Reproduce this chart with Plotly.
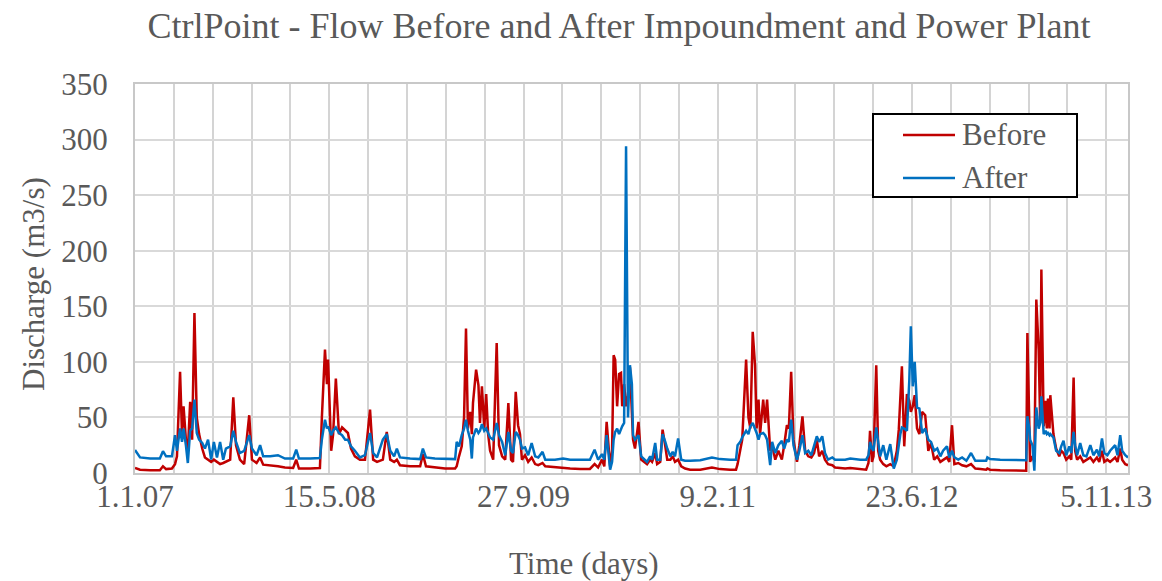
import pandas as pd
import plotly.graph_objects as go

title_text = "CtrlPoint - Flow Before and After Impoundment and Power Plant"
start_date = "2007-01-01"
end_date = "2013-12-31"
series_names = ["Before", "After"]
series_colors = ["#C00000", "#0070C0"]

days = [0, 13, 39, 64, 72, 80, 95, 103, 108, 116, 121, 125, 131, 136, 142, 147, 153, 159, 165, 173,
        180, 188, 196, 203, 211, 219, 227, 234, 245, 253, 260, 270, 281, 294, 301, 313, 322, 330, 348, 368,
        386, 407, 415, 422, 451, 476, 481, 487, 489, 494, 497, 505, 510, 517, 525, 533, 541, 548, 556, 566,
        579, 592, 605, 613, 623, 638, 648, 657, 667, 674, 682, 708, 734, 741, 749, 772, 798, 824, 828, 834,
        841, 847, 852, 857, 863, 867, 870, 878, 884, 888, 893, 899, 904, 909, 914, 922, 931, 937, 945, 953,
        961, 968, 973, 980, 986, 991, 996, 1004, 1012, 1021, 1030, 1038, 1049, 1056, 1081, 1102, 1120, 1146, 1171, 1183,
        1192, 1202, 1208, 1214, 1223, 1228, 1232, 1236, 1241, 1246, 1251, 1254, 1259, 1264, 1269, 1274, 1279, 1282, 1287, 1296,
        1303, 1311, 1318, 1326, 1331, 1339, 1344, 1352, 1358, 1365, 1370, 1378, 1384, 1390, 1398, 1406, 1416, 1429, 1455, 1485,
        1506, 1532, 1547, 1551, 1558, 1563, 1573, 1579, 1584, 1590, 1596, 1600, 1605, 1609, 1617, 1622, 1627, 1630, 1635, 1640,
        1648, 1656, 1665, 1671, 1678, 1683, 1689, 1695, 1704, 1710, 1718, 1725, 1733, 1741, 1748, 1755, 1761, 1769, 1776, 1784,
        1795, 1802, 1828, 1841, 1867, 1882, 1888, 1892, 1897, 1901, 1908, 1913, 1918, 1926, 1934, 1944, 1953, 1961, 1966, 1970,
        1974, 1980, 1987, 1993, 1997, 2002, 2007, 2013, 2019, 2026, 2034, 2042, 2049, 2057, 2065, 2073, 2080, 2090, 2096, 2103,
        2109, 2119, 2129, 2140, 2152, 2163, 2176, 2191, 2194, 2201, 2227, 2266, 2294, 2297, 2302, 2304, 2310, 2315, 2320, 2326,
        2330, 2333, 2339, 2344, 2347, 2350, 2354, 2356, 2364, 2371, 2379, 2384, 2390, 2397, 2405, 2410, 2416, 2420, 2425, 2433,
        2441, 2449, 2459, 2467, 2476, 2482, 2489, 2495, 2503, 2510, 2523, 2529, 2536, 2541, 2549, 2556]

before = [4.5, 3, 2.5, 2.5, 6, 3.5, 4, 8, 15, 91, 35, 60, 30, 20, 64, 30, 144, 50, 35, 22,
          14, 12, 10, 12, 10, 8, 9, 10, 12, 68, 25, 12, 8, 52, 12, 9, 14, 7.5, 7, 6,
          5, 4.5, 12, 4, 4, 4.5, 50, 87, 111, 80, 102, 20, 35, 85, 35, 41, 38, 36, 22, 15,
          12, 12, 57, 12, 10, 12, 37, 12, 10, 12, 7, 6, 6, 17, 6, 5, 4, 4, 6, 15,
          24, 50, 130, 40, 55, 35, 63, 93, 79, 45, 78, 40, 71, 35, 20, 12, 117, 25, 15, 12,
          63, 12, 10, 73, 43, 35, 12, 16, 10, 14, 8, 7, 9, 6, 5, 4.5, 4, 3.7, 3.7, 8,
          5, 12, 6, 46, 6, 20, 106, 102, 60, 89, 90, 60, 80, 60, 70, 95, 57, 30, 22, 46,
          12, 10, 8, 12, 10, 18, 8, 10, 39, 24, 12, 12, 15, 10, 12, 6, 4, 3, 3, 5,
          3.5, 3, 3, 8, 20, 30, 102, 50, 40, 127, 97, 40, 66, 35, 66, 45, 66, 52, 20, 25,
          12, 20, 12, 25, 43, 40, 91, 30, 10, 25, 51, 20, 15, 14, 18, 30, 15, 20, 12, 8,
          7, 5, 4, 4.5, 3.5, 3, 9, 38, 10, 15, 97, 20, 12, 8, 6, 8, 6, 20, 39, 75,
          96, 24, 71, 65, 55, 60, 70, 40, 35, 55, 52, 20, 27, 12, 15, 10, 12, 14, 10, 43,
          8, 9, 7, 6, 8, 4, 3.5, 3, 4, 3, 2.5, 2, 2, 126, 20, 10, 15, 10, 156, 111,
          45, 183, 42, 65, 40, 67, 40, 70, 35, 22, 15, 20, 18, 12, 15, 12, 86, 20, 12, 15,
          10, 12, 14, 10, 14, 10, 20, 10, 12, 10, 14, 10, 22, 12, 8, 7]

after = [20.7, 14, 13, 13, 19.6, 15, 15, 34, 20, 40, 28, 40, 25, 9, 38, 40, 66, 36, 30, 27,
         22, 30, 12, 28, 14, 28, 12, 22, 24, 38, 28, 18, 20, 34, 22, 16, 25, 15, 15, 16,
         13, 13, 21, 13, 13, 13.5, 30, 45, 48, 40, 42, 34, 38, 41, 36, 34, 30, 30, 24, 20,
         14, 16, 36, 18, 14, 30, 35, 20, 15, 22, 14, 13, 12.5, 22, 14, 13, 12.5, 12.5, 28, 24,
         34, 40, 48, 38, 30, 13, 32, 40, 36, 38, 44, 38, 40, 36, 32, 30, 45, 34, 28, 16,
         37, 20, 18, 37, 34, 30, 22, 23, 16, 27, 15, 14, 19, 12, 12, 13, 12, 12, 12, 21,
         12, 17, 12, 34, 3, 10, 30, 37, 40, 35, 40, 42, 45, 294, 50, 97, 80, 34, 30, 34,
         15, 12, 10, 15, 12, 27, 12, 12, 35, 28, 22, 15, 19, 15, 31, 12, 11, 11, 11.5, 14,
         12.5, 12, 12, 25, 28, 32, 38, 35, 42, 45, 40, 36, 30, 35, 36, 34, 30, 22, 7, 28,
         18, 25, 29, 22, 30, 28, 48, 25, 12, 20, 34, 18, 20, 16, 25, 33, 28, 33, 18, 12,
         14, 12, 12, 13, 12, 12, 16, 28, 22, 20, 41, 30, 15, 25, 12, 26, 4, 12, 28, 35,
         41, 40, 38, 83, 132, 78, 100, 59, 58, 36, 40, 30, 28, 20, 22, 15, 20, 24, 14, 20,
         14, 12, 14, 11, 18, 11, 11, 11, 14, 12.5, 12, 12, 11.5, 51, 40, 30, 25, 2, 59, 40,
         45, 69, 35, 38, 35, 36, 34, 35, 32, 20, 18, 24, 29, 16, 24, 18, 37, 25, 16, 27,
         16, 15, 25, 16, 21, 15, 31, 18, 16, 20, 25, 16, 34, 20, 16, 14]

tick_days = [0, 500, 1000, 1500, 2000, 2500]
tick_labels = ["1.1.07", "15.5.08", "27.9.09", "9.2.11", "23.6.12", "5.11.13"]

t0 = pd.Timestamp(start_date)
dates = [t0 + pd.Timedelta(days=d) for d in days]
tick_dates = [t0 + pd.Timedelta(days=d) for d in tick_days]

FONT = "Liberation Serif, Times New Roman, serif"
GREY = "#595959"
W, H = 1162, 581
OFF = 8  # page body margin offset
L, R, T, B = 135 - OFF, 1128 - OFF, 84 - OFF, 473 - OFF   # plot area in figure pixels


def px(xs):
    return (xs - OFF - L) / (R - L)


def py(ys):
    return (B - (ys - OFF)) / (B - T)


fig = go.Figure()
for name, vals, col in zip(series_names, [before, after], series_colors):
    fig.add_trace(go.Scatter(x=dates, y=vals, mode="lines", name=name,
                             line=dict(color=col, width=2.5), showlegend=False))

fig.update_layout(
    width=W, height=H,
    margin=dict(l=L, r=W - R, t=T, b=H - B, autoexpand=False),
    paper_bgcolor="white", plot_bgcolor="white",
    font=dict(family=FONT, color=GREY, size=31),
    title=dict(text=title_text, x=(619 - OFF) / W, xanchor="center", xref="container",
               y=1 - (25 - OFF) / H, yanchor="middle", yref="container",
               font=dict(family=FONT, size=36, color=GREY)),
    showlegend=False,
)
fig.update_xaxes(
    type="date", automargin=False,
    range=[t0, pd.Timestamp(end_date)],
    tickmode="array", tickvals=tick_dates, ticktext=tick_labels,
    showgrid=True, gridcolor="#d4d4d4", gridwidth=2,
    minor=dict(dtick=100 * 86400000, tick0=start_date, showgrid=True,
               gridcolor="#d4d4d4", gridwidth=2),
    showline=True, linecolor="#c8c8c8", linewidth=2, mirror=True,
    ticks="", ticklabelstandoff=-5,
    tickfont=dict(family=FONT, size=31, color=GREY),
    zeroline=False,
)
fig.update_yaxes(
    automargin=False,
    range=[0, 350], dtick=50, tick0=0,
    showgrid=True, gridcolor="#d9d9d9", gridwidth=1.5,
    showline=True, linecolor="#c8c8c8", linewidth=2, mirror=True,
    ticks="", ticklabelstandoff=19,
    tickfont=dict(family=FONT, size=31, color=GREY),
    zeroline=False,
)

# axis titles
fig.add_annotation(text="Discharge (m3/s)", xref="paper", yref="paper",
                   x=px(33), y=py(284), xanchor="center", yanchor="middle",
                   textangle=-90, showarrow=False,
                   font=dict(family=FONT, size=31, color=GREY))
fig.add_annotation(text="Time (days)", xref="paper", yref="paper",
                   x=px(584), y=py(563), xanchor="center", yanchor="middle",
                   showarrow=False, font=dict(family=FONT, size=31, color=GREY))

# legend box
fig.add_shape(type="rect", xref="paper", yref="paper",
              x0=px(873), x1=px(1077), y0=py(197), y1=py(114),
              line=dict(color="black", width=2), fillcolor="white", layer="above")
for i, (name, col) in enumerate(zip(series_names, series_colors)):
    yy = 135 + i * 43
    fig.add_shape(type="line", xref="paper", yref="paper",
                  x0=px(903), x1=px(955), y0=py(yy), y1=py(yy),
                  line=dict(color=col, width=2.5), layer="above")
    fig.add_annotation(text=name, xref="paper", yref="paper",
                       x=px(960), y=py(yy), xanchor="left", yanchor="middle",
                       showarrow=False, font=dict(family=FONT, size=31, color=GREY))

fig.write_html("out.html")
